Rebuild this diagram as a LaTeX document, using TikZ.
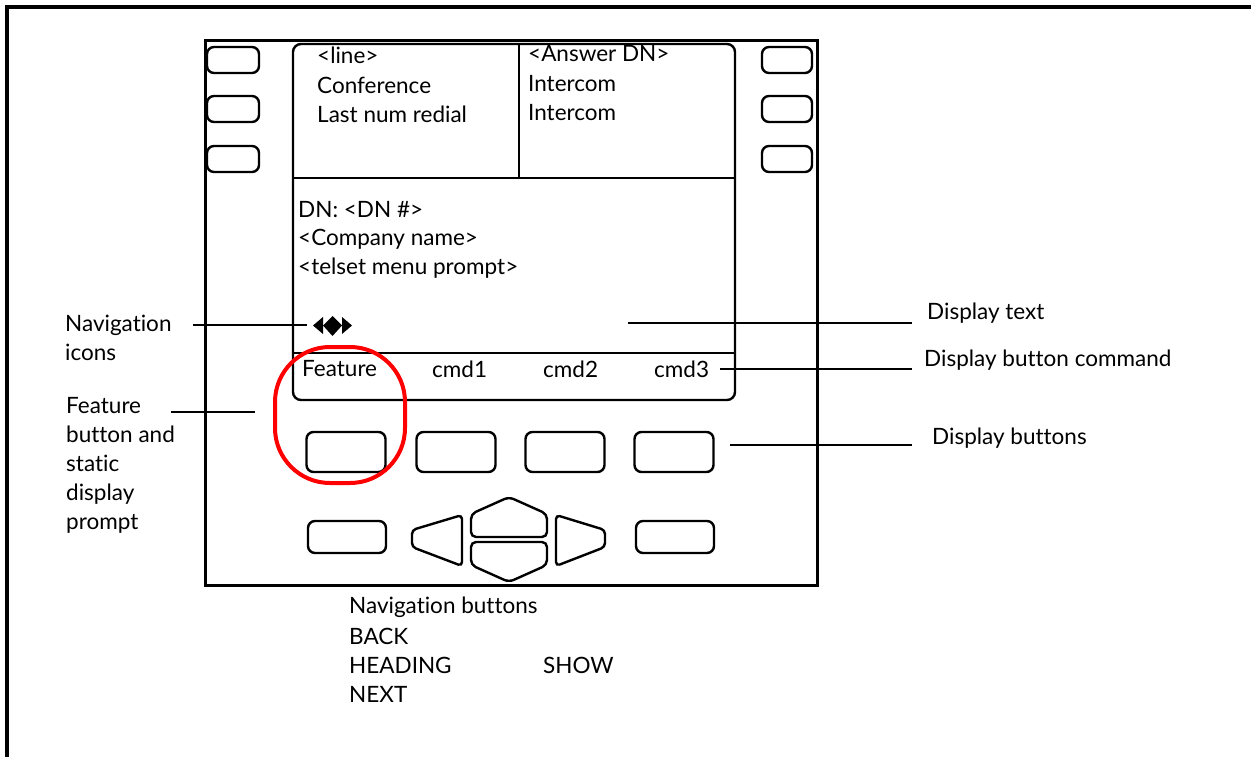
\documentclass[tikz,border=0pt]{standalone}
\usepackage{fontspec}
\setmainfont{Lato}[Ligatures={NoCommon,NoRare,NoContextual}]
\begin{document}
\begin{tikzpicture}[x=1pt,y=-1pt,
  btn/.style={draw, line width=2.4pt, rounded corners=7pt, inner sep=0pt},
  ann/.style={line width=1.4pt},
  lbl/.style={font=\fontsize{22.5}{29}\selectfont, inner sep=0pt, anchor=west, align=left},
  scr/.style={line width=2.4pt}]
\useasboundingbox (0,0) rectangle (1251,757);
% outer frame (top and left only)
\draw[line width=4pt] (7,757) -- (7,7) -- (1251,7);
% phone body
\draw[line width=3pt] (205,41) rectangle (817,585);
% screen
\draw[scr, rounded corners=8pt] (293,44) rectangle (735,400);
\draw[scr] (293,178) -- (735,178);
\draw[scr] (519,44) -- (519,178);
\draw[scr] (293,353) -- (735,353);
% line buttons
\foreach \y/\n in {60/1,109/2,159/3}{
  \node[btn, minimum width=52pt, minimum height=26pt] (L\n) at (233,\y) {};
  \node[btn, minimum width=50pt, minimum height=26pt] (R\n) at (787,\y) {};
}
% screen text
\node[lbl] (t1) at (317,55) {<line>};
\node[lbl] (t2) at (317,85) {Conference};
\node[lbl] (t3) at (317,114) {Last num redial};
\node[lbl] (t4) at (528,54) {<Answer DN>};
\node[lbl] (t5) at (528,84) {Intercom};
\node[lbl] (t6) at (528,113) {Intercom};
\node[lbl] (t7) at (298,210) {DN: <DN \#>};
\node[lbl] (t8) at (298,239) {<Company name>};
\node[lbl] (t9) at (298,268) {<telset menu prompt>};
\node[lbl] (sk0) at (302,369) {Feature};
\node[lbl] (sk1) at (432,369) {cmd1};
\node[lbl] (sk2) at (543,369) {cmd2};
\node[lbl] (sk3) at (654,369) {cmd3};
% nav icon
\fill (313,325.5) -- (323,317) -- (323,334) -- cycle;
\fill (332.5,316) -- (342,325.5) -- (332.5,336) -- (323,325.5) -- cycle;
\fill (352,325.5) -- (342,317) -- (342,334) -- cycle;
\coordinate (navicon) at (307,325);
% display buttons
\foreach \x/\n in {346/1,456/2,565/3,674/4}{
  \node[btn, minimum width=79pt, minimum height=40pt] (D\n) at (\x,452) {};
}
% bottom row
\node[btn, minimum width=78pt, minimum height=32pt] (B1) at (347,537) {};
\node[btn, minimum width=78pt, minimum height=32pt] (B2) at (675,537) {};
\draw[line width=2.4pt, rounded corners=4pt] (462,515) -- (462,566) -- (412,547) -- (412,530) -- cycle;
\draw[line width=2.4pt, rounded corners=4pt] (556,515) -- (556,566) -- (605,547) -- (605,530) -- cycle;
\draw[line width=2.4pt, rounded corners=5pt] (471,537) -- (471,514) -- (509,497) -- (547,514) -- (547,537) -- cycle;
\draw[line width=2.4pt, rounded corners=5pt] (471,542) -- (547,542) -- (547,565) -- (509,582) -- (471,565) -- cycle;
% red highlight
\draw[red, line width=4pt, rounded corners=55pt] (275,347) rectangle (405,483);
% annotations
\node[lbl] (a1) at (65,338) {Navigation\\icons};
\draw[ann] (193,325) -- (navicon);
\node[lbl] (a2) at (927,313) {Display text};
\coordinate (dt) at (628,323);
\draw[ann] (dt) -- (912,323);
\node[lbl] (a3) at (924,360) {Display button command};
\coordinate (dbc) at (720,369);
\draw[ann] (dbc) -- (912,369);
\node[lbl] (a4) at (66,465) {Feature\\button and\\static\\display\\prompt};
\coordinate (fe) at (255,412);
\draw[ann] (171,412) -- (fe);
\node[lbl] (a5) at (932,438) {Display buttons};
\coordinate (db) at (730,445);
\draw[ann] (db) -- (912,445);
% navigation buttons text
\node[lbl] (n1) at (349,607) {Navigation buttons};
\node[lbl] (n2) at (349,636) {BACK};
\node[lbl] (n3) at (349,665) {HEADING};
\node[lbl] (n4) at (543,665) {SHOW};
\node[lbl] (n5) at (349,694) {NEXT};
\end{tikzpicture}
\end{document}
